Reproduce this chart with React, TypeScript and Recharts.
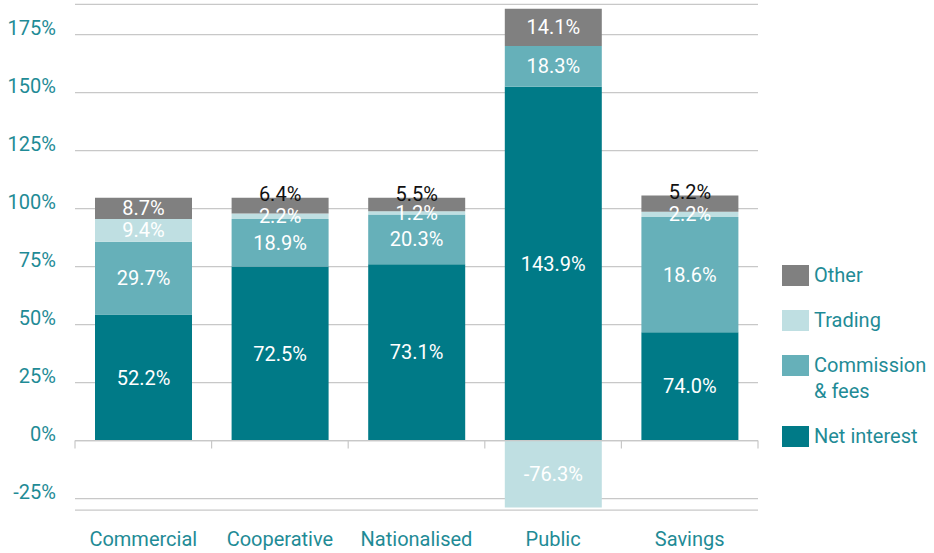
import { BarChart, Bar, XAxis, YAxis, CartesianGrid, Legend, LabelList, ReferenceLine } from 'recharts';

const categories = ['Commercial', 'Cooperative', 'Nationalised', 'Public', 'Savings'];

// segment heights as drawn in the chart (%)
const netInterest = [54.3, 75.0, 76.0, 152.5, 46.7];
const commission = [31.4, 20.5, 21.5, 17.6, 49.7];
const trading = [9.8, 2.4, 1.4, -28.8, 2.2];
const other = [9.2, 6.8, 5.8, 16.0, 7.0];

// values printed on the segments (%)
const netInterestLabels = [52.2, 72.5, 73.1, 143.9, 74.0];
const commissionLabels = [29.7, 18.9, 20.3, 18.3, 18.6];
const tradingLabels = [9.4, 2.2, 1.2, -76.3, 2.2];
const otherLabels = [8.7, 6.4, 5.5, 14.1, 5.2];

const yTicks = [-25, 0, 25, 50, 75, 100, 125, 150, 175];

const FONT = 'Roboto, sans-serif';
const TEAL_TEXT = '#1f8b96';
const GRID = '#c8c8c8';

const series = [
  { key: 'netInterest', label: 'netInterestLabel', name: 'Net interest', lines: ['Net interest'], color: '#007a87' },
  { key: 'commission', label: 'commissionLabel', name: 'Commission & fees', lines: ['Commission', '& fees'], color: '#66b0b9' },
  { key: 'trading', label: 'tradingLabel', name: 'Trading', lines: ['Trading'], color: '#bfdfe2' },
  { key: 'other', label: 'otherLabel', name: 'Other', lines: ['Other'], color: '#808080' },
];

const data = categories.map((category, i) => ({
  category,
  netInterest: netInterest[i],
  commission: commission[i],
  trading: trading[i],
  other: other[i],
  netInterestLabel: netInterestLabels[i],
  commissionLabel: commissionLabels[i],
  tradingLabel: tradingLabels[i],
  otherLabel: otherLabels[i],
}));

// small "Other" segments get their label in black, sitting on top of the bar
const makeLabel = (liftSmall: boolean) => (props: any) => {
  const vb = props.viewBox ?? props;
  const x = vb.x ?? props.x;
  const y = vb.y ?? props.y;
  const width = vb.width ?? props.width;
  const height = vb.height ?? props.height;
  if (props.value == null || x == null) return null;
  const h = Math.abs(height);
  const top = Math.min(y, y + height);
  const tight = liftSmall && h < 18;
  const cy = tight ? top - 4 : top + h / 2;
  return (
    <text
      x={x + width / 2}
      y={cy}
      textAnchor="middle"
      dominantBaseline="central"
      fill={tight ? '#111' : '#fff'}
      fontSize={20}
      fontFamily={FONT}
    >
      {Number(props.value).toFixed(1)}%
    </text>
  );
};

const YTick = ({ x, y, payload }: any) => (
  <text x={x} y={y - 7} textAnchor="end" dominantBaseline="central" fill={TEAL_TEXT} fontSize={20} fontFamily={FONT}>
    {payload.value}%
  </text>
);

const XTick = ({ x, y, payload }: any) => (
  <text x={x} y={y + 29} textAnchor="middle" dominantBaseline="central" fill={TEAL_TEXT} fontSize={20} fontFamily={FONT}>
    {payload.value}
  </text>
);

// zero line with short ticks between categories
const ZeroAxis = (props: any) => {
  const { x1, y1, x2 } = props;
  const band = (x2 - x1) / categories.length;
  return (
    <g>
      <line x1={x1} y1={y1} x2={x2} y2={y1} stroke={GRID} strokeWidth={1.2} />
      {[...categories, ''].map((_, i) => (
        <line key={i} x1={x1 + i * band} y1={y1} x2={x1 + i * band} y2={y1 + 8} stroke={GRID} strokeWidth={1.2} />
      ))}
    </g>
  );
};

const LegendContent = () => (
  <div style={{ fontFamily: FONT, fontSize: 20, color: TEAL_TEXT }}>
    {[...series].reverse().map((s) => (
      <div key={s.key} style={{ display: 'flex', alignItems: 'flex-start', marginBottom: 19 }}>
        <div style={{ width: 27, height: 21, marginTop: 2.5, marginRight: 5, background: s.color, flexShrink: 0 }} />
        <div style={{ lineHeight: '26px', whiteSpace: 'nowrap' }}>
          {s.lines.map((l) => (
            <div key={l}>{l}</div>
          ))}
        </div>
      </div>
    ))}
  </div>
);

export default function App() {
  return (
    <div style={{ position: 'absolute', left: 0, top: 0, width: 934, height: 553, background: '#fff', fontFamily: FONT }}>
      <BarChart
        width={934}
        height={553}
        data={data}
        stackOffset="sign"
        barCategoryGap={20}
        margin={{ top: 4.4, right: 176, bottom: 0, left: 0 }}
      >
        <CartesianGrid vertical={false} stroke={GRID} strokeWidth={1.2} />
        <XAxis
          dataKey="category"
          axisLine={false}
          tickLine={false}
          tickSize={0}
          tickMargin={0}
          height={42.8}
          interval={0}
          tick={<XTick />}
        />
        <YAxis
          type="number"
          domain={[-30, 188]}
          ticks={yTicks}
          allowDataOverflow
          axisLine={false}
          tickLine={false}
          tickSize={0}
          tickMargin={19}
          width={75}
          tick={<YTick />}
        />
        <ReferenceLine y={0} shape={<ZeroAxis />} />
        {series.map((s) => (
          <Bar key={s.key} dataKey={s.key} name={s.name} stackId="a" fill={s.color} isAnimationActive={false}>
            <LabelList dataKey={s.label} content={makeLabel(s.key === 'other')} />
          </Bar>
        ))}
        <Legend
          layout="vertical"
          align="center"
          verticalAlign="middle"
          wrapperStyle={{ left: 782, top: 262, width: 152 }}
          content={<LegendContent />}
        />
      </BarChart>
    </div>
  );
}
